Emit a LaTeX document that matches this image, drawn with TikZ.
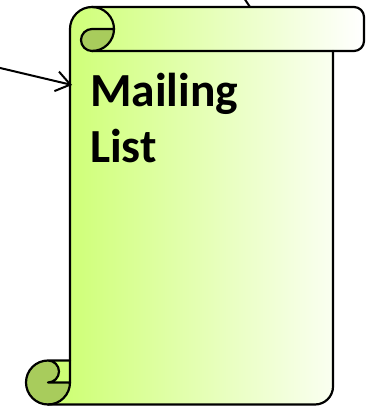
\documentclass[tikz,border=0pt]{standalone}
\usepackage{fontspec}
\setmainfont{Carlito}
\usepackage{tikz}
\usetikzlibrary{arrows.meta, positioning}
\definecolor{scrollgreen}{RGB}{200, 255, 100}
\definecolor{curlgreen}{RGB}{168, 204, 92}

\begin{document}
\begin{tikzpicture}[x=1pt, y=1pt,
        scrolledge/.style={draw=black, line width=2.2pt, line join=round, line cap=round},
        curlshade/.style={fill=curlgreen},
        scrolltext/.style={anchor=base west, inner sep=0pt, font=\fontsize{47.5}{56}\selectfont\bfseries},
        feedline/.style={draw=black, line width=2pt}]
    \fill[white] (0,0) rectangle (365,406);
    \useasboundingbox (0,0) rectangle (365,406);

    % scroll body with the bar on top
    \shade[left color=scrollgreen, right color=white]
        (48,1.5) -- (315,1.5) arc[start angle=-90, end angle=0, radius=18]
        -- (333,355) -- (354,355) arc[start angle=-90, end angle=0, radius=10]
        -- (364,389) arc[start angle=0, end angle=90, radius=10]
        -- (92,399) arc[start angle=90, end angle=180, radius=22]
        -- (70,45.5) -- (48,45.5) arc[start angle=90, end angle=270, radius=22] -- cycle;

    % curls
    \path[curlshade] (92,355) arc[start angle=270, end angle=90, radius=11]
        -- (114,377) arc[start angle=0, end angle=-90, radius=22] -- cycle;
    \path[curlshade] (48,45.5) arc[start angle=90, end angle=360, radius=22]
        -- (48,23.5) arc[start angle=-90, end angle=90, radius=11] -- cycle;

    % outlines
    \draw[scrolledge] (48,1.5) -- (315,1.5) arc[start angle=-90, end angle=0, radius=18] -- (333,355);
    \draw[scrolledge] (92,355) -- (354,355) arc[start angle=-90, end angle=0, radius=10]
        -- (364,389) arc[start angle=0, end angle=90, radius=10] -- (92,399)
        arc[start angle=90, end angle=180, radius=22] -- (70,23.5);
    \draw[scrolledge] (92,399) arc[start angle=90, end angle=0, radius=22];
    \draw[scrolledge] (92,355) arc[start angle=270, end angle=90, radius=11]
        -- (114,377) arc[start angle=0, end angle=-90, radius=22];
    \draw[scrolledge] (70,45.5) -- (48,45.5) arc[start angle=90, end angle=360, radius=22]
        -- (48,23.5) arc[start angle=-90, end angle=90, radius=11];

    \node[scrolltext] (mailing) at (90,299) {Mailing};
    \node[scrolltext] (list) at (90,243) {List};

    % connectors
    \coordinate (feedin) at (-2,338.5);
    \coordinate (scrollleft) at (72,321);
    \coordinate (feedtop) at (244,408);
    \coordinate (scrolltop) at (250,399);
    \draw[feedline, -{Straight Barb[length=14pt, width=20pt]}] (feedin) -- (scrollleft);
    \draw[feedline] (feedtop) -- (scrolltop);
\end{tikzpicture}
\end{document}
